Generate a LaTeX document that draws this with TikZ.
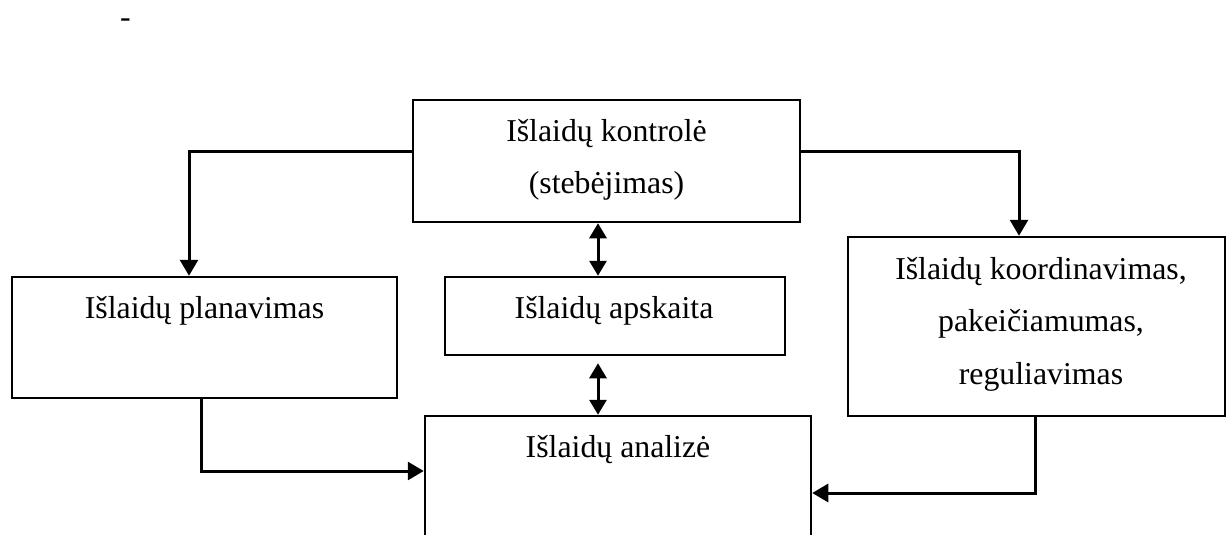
\documentclass[tikz,border=0pt]{standalone}
\usepackage{fontspec}
\setmainfont{Liberation Serif}
\usetikzlibrary{arrows.meta}
\tikzset{
  box/.style={draw, line width=2.5pt, rectangle, inner sep=0pt},
  txt/.style={inner sep=0pt, anchor=base, align=center, font=\fontsize{31.8}{52.5}\selectfont},
  conn/.style={line width=3pt, -{Triangle[length=16pt,width=18pt]}},
  dconn/.style={line width=3pt, {Triangle[length=15pt,width=17pt]}-{Triangle[length=15pt,width=17pt]}}
}
\begin{document}
\begin{tikzpicture}[x=1pt,y=-1pt]
\useasboundingbox (0,0) rectangle (1226,535);
\clip (0,0) rectangle (1226,535);
\fill[white] (0,0) rectangle (1226,535);
% stray dash
\node[txt, anchor=base west] (dash) at (120,28) {-};
% boxes
\node[box, minimum width=387pt, minimum height=122pt] (ctrl) at (606.5,161) {};
\node[box, minimum width=385pt, minimum height=121pt] (plan) at (204.5,337.5) {};
\node[box, minimum width=340pt, minimum height=78pt] (acc) at (615,316) {};
\node[box, minimum width=377pt, minimum height=179pt] (coord) at (1036.5,326.5) {};
\node[box, minimum width=386pt, minimum height=150pt] (anal) at (618,491) {};
% texts (base anchor = baseline of the last line)
\node[txt] (tctrl) at (606.5,193.5) {Išlaidų kontrolė\\(stebėjimas)};
\node[txt] (tplan) at (204.5,318) {Išlaidų planavimas};
\node[txt] (tacc) at (614,318) {Išlaidų apskaita};
\node[txt] (tanal) at (618,457) {Išlaidų analizė};
\node[txt] (tcoord) at (1041,384) {Išlaidų koordinavimas,\\pakeičiamumas,\\reguliavimas};
% helper coordinates
\coordinate (ytop) at (0,151);
\coordinate (xl) at (189,0);
\coordinate (xr) at (1019,0);
\coordinate (xm) at (598,0);
\coordinate (xpl) at (201,0);
\coordinate (ypl) at (0,471);
\coordinate (xco) at (1035,0);
\coordinate (yco) at (0,493);
% connectors
\draw[conn] (ctrl.west |- ytop) -| (plan.north -| xl);
\draw[conn] (ctrl.east |- ytop) -| (coord.north -| xr);
\draw[dconn] (ctrl.south -| xm) -- (acc.north -| xm);
\draw[dconn, shorten <=7pt] (acc.south -| xm) -- (anal.north -| xm);
\draw[conn] (plan.south -| xpl) |- (anal.west |- ypl);
\draw[conn] (coord.south -| xco) |- (anal.east |- yco);
\end{tikzpicture}
\end{document}
